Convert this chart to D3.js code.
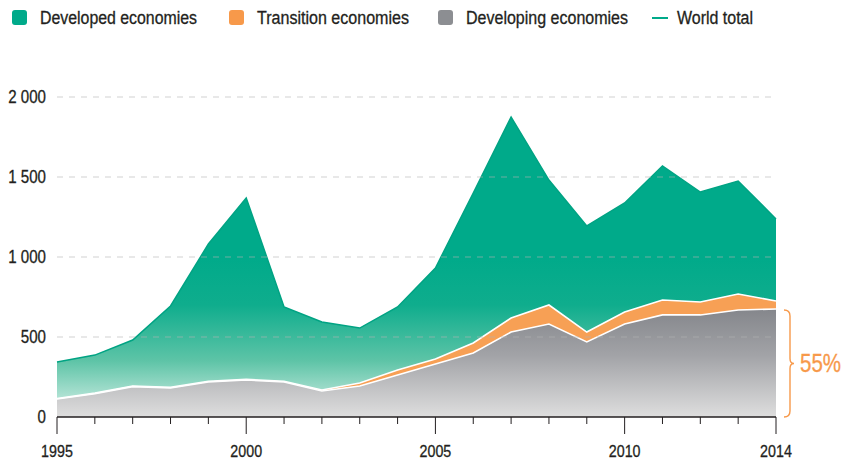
<!DOCTYPE html>
<html>
<head>
<meta charset="utf-8">
<script src="https://cdn.jsdelivr.net/npm/d3@7"></script>
<style>
  body { margin: 0; background: #fff; }
  svg { display: block; font-family: "Liberation Sans", Arial, sans-serif; }
</style>
</head>
<body>
<div id="chart"></div>
<script>
// datos
var years = [1995, 1996, 1997, 1998, 1999, 2000, 2001, 2002, 2003, 2004,
             2005, 2006, 2007, 2008, 2009, 2010, 2011, 2012, 2013, 2014];
var worldTotal = [344, 387, 481, 694, 1081, 1369, 688, 594, 556, 688,
                  931, 1400, 1875, 1481, 1194, 1338, 1569, 1406, 1475, 1238];
var developing = [112, 145, 190, 181, 219, 231, 219, 163, 194, 263,
                  331, 400, 531, 581, 469, 581, 638, 638, 669, 675];
var transition = [4, 4, 4, 4, 4, 4, 4, 6, 19, 31,
                  32, 63, 88, 119, 62, 75, 93, 81, 100, 50];
var yTicks = [0, 500, 1000, 1500, 2000];
var xLabels = [1995, 2000, 2005, 2010, 2014];

var legendItems = [
  { label: "Developed economies", color: "#00aa8a", x: 12, w: 157, type: "box" },
  { label: "Transition economies", color: "#f7994a", x: 229, w: 152, type: "box" },
  { label: "Developing economies", color: "#8c8e92", x: 438, w: 162, type: "box" },
  { label: "World total", color: "#00aa8a", x: 652, w: 76, type: "line" }
];

var width = 848, height = 461;
var margin = { top: 97, right: 72, bottom: 44, left: 57 };
var narrow = 0.84; // fuente condensada simulada

var svg = d3.select("#chart").append("svg")
  .attr("width", width)
  .attr("height", height);

var x = d3.scaleLinear()
  .domain([1995, 2014])
  .range([margin.left, width - margin.right]);

var y = d3.scaleLinear()
  .domain([0, 2000])
  .range([height - margin.bottom, margin.top]);

// texto estrecho
function narrowText(parent, tx, ty, txt, size, anchor, color, sx) {
  var g = parent.append("g")
    .attr("transform", "translate(" + tx + "," + ty + ") scale(" + (sx || narrow) + ",1)");
  return g.append("text")
    .attr("text-anchor", anchor)
    .attr("dy", "0.35em")
    .style("font-size", size + "px")
    .style("fill", color || "#231f20")
    .style("stroke", color || "#231f20")
    .style("stroke-width", 0.3)
    .text(txt);
}

// tabla para el apilado
var table = years.map(function (yr, i) {
  return {
    year: yr,
    developing: developing[i],
    transition: transition[i],
    developed: worldTotal[i] - developing[i] - transition[i]
  };
});

var stack = d3.stack().keys(["developing", "transition", "developed"]);
var series = stack(table);

// gradientes
var defs = svg.append("defs");

var gGreen = defs.append("linearGradient")
  .attr("id", "gradGreen")
  .attr("gradientUnits", "userSpaceOnUse")
  .attr("x1", 0).attr("x2", 0)
  .attr("y1", y(1000)).attr("y2", y(0));
gGreen.append("stop").attr("offset", 0).attr("stop-color", "#00aa8a");
gGreen.append("stop").attr("offset", 0.3).attr("stop-color", "#0fad8d");
gGreen.append("stop").attr("offset", 0.65).attr("stop-color", "#5ec4a7");
gGreen.append("stop").attr("offset", 1).attr("stop-color", "#dcf2eb");

var gGrey = defs.append("linearGradient")
  .attr("id", "gradGrey")
  .attr("gradientUnits", "userSpaceOnUse")
  .attr("x1", 0).attr("x2", 0)
  .attr("y1", y(700)).attr("y2", y(0));
gGrey.append("stop").attr("offset", 0).attr("stop-color", "#828489");
gGrey.append("stop").attr("offset", 0.45).attr("stop-color", "#a2a3a7");
gGrey.append("stop").attr("offset", 1).attr("stop-color", "#dedede");

var fills = {
  developing: "url(#gradGrey)",
  transition: "#f7a055",
  developed: "url(#gradGreen)"
};

var area = d3.area()
  .x(function (d) { return x(d.data.year); })
  .y0(function (d) { return y(d[0]); })
  .y1(function (d) { return y(d[1]); });

svg.append("g")
  .selectAll("path")
  .data(series.slice().reverse())
  .enter()
  .append("path")
  .attr("d", area)
  .attr("fill", function (d) { return fills[d.key]; });

// bordes blancos entre capas
var topLine = d3.line()
  .x(function (d) { return x(d.data.year); })
  .y(function (d) { return y(d[1]); });

svg.append("g")
  .selectAll("path")
  .data(series.slice(0, 2))
  .enter()
  .append("path")
  .attr("d", topLine)
  .attr("fill", "none")
  .attr("stroke", "#fff")
  .attr("stroke-width", 1.6);

// linea total mundial
var worldLine = d3.line()
  .x(function (d, i) { return x(years[i]); })
  .y(function (d) { return y(d); });

svg.append("path")
  .datum(worldTotal)
  .attr("d", worldLine)
  .attr("fill", "none")
  .attr("stroke", "#00a383")
  .attr("stroke-width", 1.5);

// rejilla punteada (encima de las áreas)
svg.append("g")
  .selectAll("line")
  .data(yTicks.filter(function (d) { return d > 0; }))
  .enter()
  .append("line")
  .attr("x1", x(1995))
  .attr("x2", x(2014))
  .attr("y1", function (d) { return y(d); })
  .attr("y2", function (d) { return y(d); })
  .attr("stroke", "#b4b4b4")
  .attr("stroke-opacity", 0.6)
  .attr("stroke-width", 1.2)
  .attr("stroke-dasharray", "6,6");

// etiquetas eje Y
var yLab = svg.append("g");
yTicks.forEach(function (d) {
  narrowText(yLab, margin.left - 11, y(d), d3.format(",")(d).replace(",", " "), 18, "end");
});

// eje X
var axisG = svg.append("g");

axisG.append("line")
  .attr("x1", x(1995))
  .attr("x2", x(2014))
  .attr("y1", y(0))
  .attr("y2", y(0))
  .attr("stroke", "#231f20")
  .attr("stroke-width", 1.5);

axisG.selectAll(".tick")
  .data(years)
  .enter()
  .append("line")
  .attr("x1", function (d) { return x(d); })
  .attr("x2", function (d) { return x(d); })
  .attr("y1", y(0))
  .attr("y2", function (d) { return xLabels.indexOf(d) >= 0 ? y(0) + 17 : y(0) + 7; })
  .attr("stroke", "#231f20")
  .attr("stroke-width", 1);

xLabels.forEach(function (d) {
  narrowText(axisG, x(d), height - 10, d, 17, "middle");
});

// llave y porcentaje
var share = Math.round(developing[developing.length - 1] / worldTotal[worldTotal.length - 1] * 100);
var bx = x(2014) + 8;
var bTop = y(developing[developing.length - 1]) + 1;
var bBot = y(0);
var bMid = (bTop + bBot) / 2;

svg.append("path")
  .attr("d", "M" + bx + "," + bTop +
    " Q" + (bx + 6) + "," + bTop + " " + (bx + 6) + "," + (bTop + 6) +
    " L" + (bx + 6) + "," + (bMid - 5) +
    " Q" + (bx + 6) + "," + bMid + " " + (bx + 10) + "," + bMid +
    " Q" + (bx + 6) + "," + bMid + " " + (bx + 6) + "," + (bMid + 5) +
    " L" + (bx + 6) + "," + (bBot - 6) +
    " Q" + (bx + 6) + "," + bBot + " " + bx + "," + bBot)
  .attr("fill", "none")
  .attr("stroke", "#f7994a")
  .attr("stroke-width", 1.4);

narrowText(svg, bx + 16, bMid, share + "%", 25, "start", "#f7994a", 0.82);

// leyenda
var legend = svg.append("g");
legendItems.forEach(function (it) {
  if (it.type === "box") {
    legend.append("rect")
      .attr("x", it.x).attr("y", 10)
      .attr("width", 15).attr("height", 15)
      .attr("rx", 3)
      .attr("fill", it.color);
  } else {
    legend.append("line")
      .attr("x1", it.x).attr("x2", it.x + 16)
      .attr("y1", 18).attr("y2", 18)
      .attr("stroke", it.color)
      .attr("stroke-width", 2);
  }
  legend.append("text")
    .attr("x", it.type === "box" ? it.x + 28 : it.x + 25)
    .attr("y", 18)
    .attr("dy", "0.35em")
    .attr("textLength", it.w)
    .attr("lengthAdjust", "spacingAndGlyphs")
    .style("font-size", "18px")
    .style("fill", "#231f20")
    .style("stroke", "#231f20")
    .style("stroke-width", 0.3)
    .text(it.label);
});
</script>
</body>
</html>
